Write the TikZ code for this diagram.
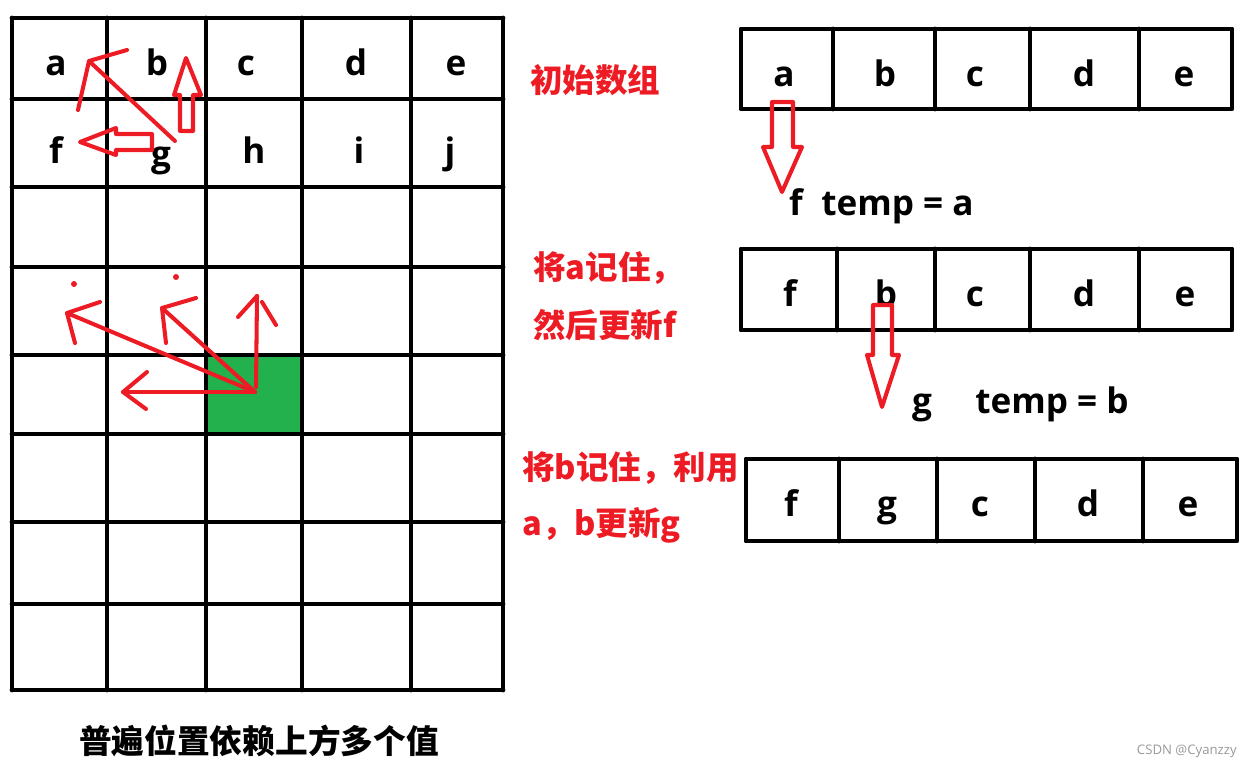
\documentclass[tikz,border=0pt]{standalone}
\usepackage{fontspec}
\setmainfont{Open Sans}
\newfontfamily\cjk{Noto Sans CJK SC}
\definecolor{paintred}{HTML}{ED1C24}
\definecolor{paintgreen}{HTML}{22B14C}
\begin{document}
\begin{tikzpicture}[x=0.02cm, y=-0.02cm, line join=round, line cap=round,
  font=\bfseries\fontsize{20}{24}\selectfont]
\tikzset{
  grd/.style={line width=2.8pt},
  pen/.style={draw=paintred, line width=2.3pt},
  letter/.style={inner sep=0pt, anchor=base},
  note/.style={text=paintred, anchor=west, inner sep=0pt, font=\cjk\bfseries\fontsize{18.5}{22}\selectfont}
}
\useasboundingbox (0,0) rectangle (1252,768);

% left grid
\fill[paintgreen] (206,355) rectangle (302,434);
\foreach \x in {12,107,206,302,411,503} \draw[grd] (\x,18) -- (\x,690);
\foreach \y in {18,99,187,267,355,434,522,604,690} \draw[grd] (12,\y) -- (503,\y);
\node[letter] (ga) at (56,75) {a};
\node[letter] (gb) at (157,75) {b};
\node[letter] (gc) at (246,75) {c};
\node[letter] (gd) at (356,75) {d};
\node[letter] (ge) at (456,75) {e};
\node[letter] (gf) at (56,163) {f};
\node[letter] (gg) at (161,166) {g};
\node[letter] (gh) at (254,163) {h};
\node[letter] (gi) at (359,163) {i};
\node[letter] (gj) at (450,163) {j};

% arrows in the top cells
\draw[pen] (180,131) -- (193,131) -- (193,95) -- (201,95) -- (186,58) -- (174,95) -- (180,95) -- cycle;
\draw[pen] (152,134) -- (116,134) -- (116,128) -- (80,142) -- (116,155) -- (116,150) -- (152,150) -- cycle;
\coordinate (gtail) at (175,141);
\coordinate (gtip) at (89,61);
\draw[pen] (gtail) -- (gtip);
\draw[pen] (78,110) -- (gtip) -- (127,50);

% arrows from the green cell
\coordinate (src) at (255,392);
\coordinate (tipa) at (67,313);
\coordinate (tipb) at (162,308);
\coordinate (tipc) at (257,296);
\coordinate (tipd) at (123,392);
\draw[pen] (src) -- (tipa);
\draw[pen] (75,343) -- (tipa) -- (100,302);
\draw[pen] (src) -- (tipb);
\draw[pen] (166,343) -- (tipb) -- (196,298);
\draw[pen] (256,387) -- (tipc);
\draw[pen] (238,317) -- (tipc);
\draw[pen] (262,302) -- (276,325);
\draw[pen] (src) -- (tipd);
\draw[pen] (147,372) -- (tipd) -- (146,409);
\fill[paintred] (74,284) circle(3);
\fill[paintred] (176,277) circle(3);

\node[font=\cjk\bfseries\fontsize{18.6}{22}\selectfont, inner sep=0pt] (caption) at (259,741) {普遍位置依赖上方多个值};

% first array
\draw[grd] (741,29) rectangle (1232,109);
\foreach \x in {833,935,1030,1139} \draw[grd] (\x,29) -- (\x,109);
\node[letter] (ra) at (784,86) {a};
\node[letter] (rb) at (885,86) {b};
\node[letter] (rc) at (975,86) {c};
\node[letter] (rd) at (1084,86) {d};
\node[letter] (re) at (1184,86) {e};
\node[note] (init) at (530,80) {初始数组};
\draw[pen] (772,102) -- (793,102) -- (793,147) -- (802,147) -- (782,192) -- (763,147) -- (772,147) -- cycle;
\node[letter] (fnew) at (796,215) {f};
\node[letter, anchor=base west] (tempa) at (821,215) {temp = a};

% second array
\draw[grd] (741,249) rectangle (1232,330);
\foreach \x in {837,935,1030,1139} \draw[grd] (\x,249) -- (\x,330);
\node[letter] (sf) at (790,306) {f};
\node[letter] (sb) at (886,306) {b};
\node[letter] (sc) at (975,306) {c};
\node[letter] (sd) at (1084,306) {d};
\node[letter] (se) at (1185,306) {e};
\node[note] (notea) at (533,268) {将a记住，};
\node[note] (noteb) at (533,325) {然后更新f};
\draw[pen] (873,305) -- (892,305) -- (892,355) -- (899,355) -- (882,407) -- (867,355) -- (873,355) -- cycle;
\node[letter] (gnew) at (922,413) {g};
\node[letter, anchor=base west] (tempb) at (975,413) {temp = b};

% third array
\draw[grd] (746,459) rectangle (1237,541);
\foreach \x in {839,937,1035,1143} \draw[grd] (\x,459) -- (\x,541);
\node[letter] (tf) at (791,516) {f};
\node[letter] (tg) at (887,516) {g};
\node[letter] (tc) at (980,516) {c};
\node[letter] (td) at (1088,516) {d};
\node[letter] (te) at (1188,516) {e};
\node[note] (notec) at (522,468) {将b记住，利用};
\node[note] (noted) at (522,525) {a，b更新g};

\node[text=gray!80, font=\fontsize{7.5}{9}\selectfont, anchor=east, inner sep=0pt] (mark) at (1237,751) {CSDN @Cyanzzy};
\end{tikzpicture}
\end{document}
